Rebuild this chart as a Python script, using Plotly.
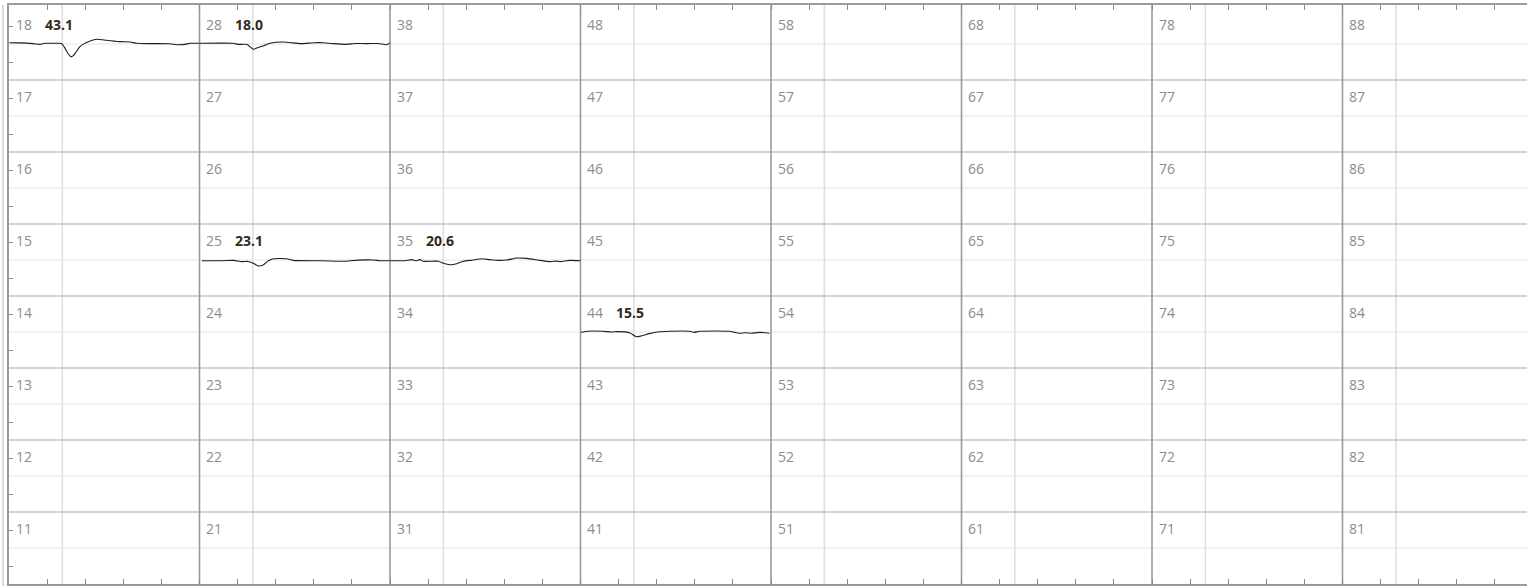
import plotly.graph_objects as go

# ---- data -------------------------------------------------------------
col_ids = [1, 2, 3, 4, 5, 6, 7, 8]          # tens digit of cell number
row_ids = [1, 2, 3, 4, 5, 6, 7, 8]          # units digit of cell number (bottom -> top)

# traces: time within cell (0..5) and deflection (row units, centre = 0)
t18 = [0.01, 0.29, 0.63, 0.81, 0.94, 1.21, 1.38, 1.46, 1.54, 1.62, 1.68, 1.75, 1.86, 1.97, 2.08,
       2.30, 2.56, 2.91, 3.18, 3.35, 3.70, 4.22, 4.40, 4.62, 4.75, 5.00]
v18 = [0.07, 0.06, 0.02, -0.02, 0.04, 0.04, 0.03, -0.20, -0.50, -0.70, -0.66, -0.48, -0.15, 0.02, 0.13,
       0.26, 0.21, 0.13, 0.11, 0.04, 0.02, 0.01, -0.04, -0.02, 0.04, 0.04]

t28 = [0.01, 0.88, 1.01, 1.25, 1.41, 1.54, 1.67, 1.85, 2.20, 2.46, 2.64, 3.03, 3.25, 3.50,
       3.86, 4.08, 4.39, 4.69, 4.91, 4.99]
v28 = [0.04, 0.04, -0.02, -0.03, -0.29, -0.19, -0.11, 0.04, 0.11, 0.06, 0.02, 0.07, 0.07, 0.02,
       -0.02, 0.03, 0.02, 0.03, -0.04, 0.04]

t25 = [0.06, 0.62, 0.89, 1.11, 1.27, 1.41, 1.54, 1.67, 1.81, 1.94, 2.29, 2.46, 3.24, 3.86,
       3.95, 4.56, 4.74, 4.99]
v25 = [-0.04, -0.04, -0.02, -0.09, -0.08, -0.18, -0.33, -0.28, -0.04, 0.07, 0.07, -0.02, -0.04,
       -0.07, -0.04, 0.00, -0.04, -0.04]

t35 = [0.00, 0.39, 0.57, 0.68, 0.79, 0.87, 1.27, 1.40, 1.57, 1.75, 1.92, 2.19, 2.41, 2.62,
       2.84, 3.06, 3.33, 3.59, 3.94, 4.20, 4.38, 4.46, 4.72, 4.99]
v35 = [-0.04, -0.04, 0.02, -0.04, 0.02, -0.07, -0.07, -0.18, -0.26, -0.21, -0.07, 0.00, 0.07,
       0.02, -0.02, 0.00, 0.11, 0.09, -0.02, -0.09, -0.06, -0.09, -0.02, -0.04]

t44 = [0.02, 0.19, 0.58, 0.81, 0.97, 1.29, 1.46, 1.59, 1.81, 2.03, 2.34, 2.86, 2.99, 3.12,
       3.91, 4.04, 4.17, 4.35, 4.48, 4.70, 4.96]
v44 = [-0.02, 0.04, 0.04, 0.00, 0.02, -0.04, -0.26, -0.22, -0.09, 0.00, 0.04, 0.04, -0.02, 0.04,
       0.04, -0.02, -0.07, -0.04, -0.07, -0.02, -0.07]

trace_cells = [18, 28, 25, 35, 44]
trace_values = ["43.1", "18.0", "23.1", "20.6", "15.5"]
trace_t = [t18, t28, t25, t35, t44]
trace_v = [v18, v28, v25, v35, v44]

# ---- layout constants ----------------------------------------------------
CELL_W = 5      # x units per cell
CELL_H = 4      # y units per cell
STIM = 1.4      # marker line position within a cell

W, H = 1527, 586
ML, MR, MT, MB = 9, 0, 5, 2
px_per_x = 38.1
px_per_y = 18.0
x_max = (W - ML - MR) / px_per_x
y_max = (H - MT - MB) / px_per_y

fig = go.Figure()

shapes = []
# light lines: row mid-lines and stimulus markers
for k in range(8):
    shapes.append(dict(type="line", xref="paper", x0=0, x1=1, y0=k * CELL_H + CELL_H / 2,
                       y1=k * CELL_H + CELL_H / 2, line=dict(color="#e3e3e3", width=1), layer="below"))
for c in range(8):
    shapes.append(dict(type="line", yref="paper", y0=0, y1=1, x0=c * CELL_W + STIM,
                       x1=c * CELL_W + STIM, line=dict(color="#dedede", width=1.5), layer="below"))
# cell boundaries
for k in range(1, 8):
    shapes.append(dict(type="line", xref="paper", x0=0, x1=1, y0=k * CELL_H, y1=k * CELL_H,
                       line=dict(color="#a8a8a8", width=1.2), layer="below"))
for c in range(1, 8):
    shapes.append(dict(type="line", yref="paper", y0=0, y1=1, x0=c * CELL_W, x1=c * CELL_W,
                       line=dict(color="#9a9a9a", width=1.6), layer="below"))
# outer container border (left)
shapes.append(dict(type="line", xref="paper", yref="paper",
                   x0=(3 - ML) / (W - ML - MR), x1=(3 - ML) / (W - ML - MR),
                   y0=-MB / (H - MT - MB), y1=1, line=dict(color="#cfcfcf", width=1.5)))

annotations = []
for c in col_ids:
    for k in row_ids:
        annotations.append(dict(
            x=(c - 1) * CELL_W + 0.13, y=k * CELL_H - 0.89, xref="x", yref="y",
            text=f"{c}{k}", showarrow=False, xanchor="left", yanchor="middle",
            font=dict(family="Open Sans", size=14, color="#8c8c8c")))

for cell, val, tt, vv in zip(trace_cells, trace_values, trace_t, trace_v):
    c, k = cell // 10, cell % 10
    x0 = (c - 1) * CELL_W
    yc = (k - 1) * CELL_H + CELL_H / 2
    fig.add_trace(go.Scatter(
        x=[x0 + t for t in tt], y=[yc + v for v in vv], mode="lines",
        line=dict(color="#1e1e1e", width=1.1, shape="spline", smoothing=0.6),
        hoverinfo="skip", showlegend=False))
    annotations.append(dict(
        x=x0 + 0.88, y=k * CELL_H - 0.89, xref="x", yref="y",
        text=f"<b>{val}</b>", showarrow=False, xanchor="left", yanchor="middle",
        font=dict(family="Open Sans", size=14, color="#35291a")))

fig.update_layout(
    width=W, height=H,
    margin=dict(l=ML, r=MR, t=MT, b=MB),
    paper_bgcolor="white", plot_bgcolor="white",
    shapes=shapes, annotations=annotations,
    showlegend=False,
    xaxis=dict(range=[0, x_max], tick0=0, dtick=1, ticks="inside", ticklen=5,
               tickcolor="#8a8a8a", tickwidth=1, showticklabels=False, showgrid=False,
               zeroline=False, showline=True, linecolor="#9a9a9a", linewidth=1.5,
               mirror="ticks"),
    yaxis=dict(range=[0, y_max], tickvals=[1 + 2 * i for i in range(16)], ticks="inside",
               ticklen=4, tickcolor="#8a8a8a", showticklabels=False, showgrid=False,
               zeroline=False, showline=True, linecolor="#9a9a9a", linewidth=1.5),
)

fig.write_html("out.html", config={"displayModeBar": False},
               post_script="document.body.style.margin='0';document.body.style.overflow='hidden';")
